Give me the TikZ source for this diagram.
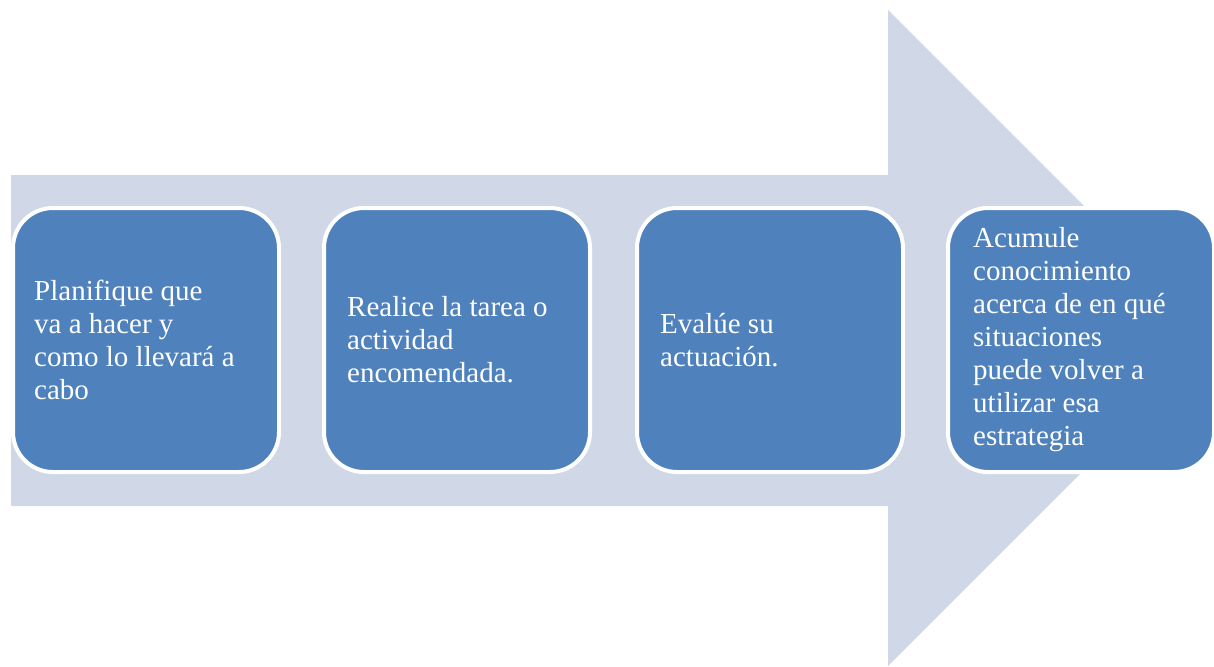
\documentclass[tikz,border=0pt]{standalone}
\usepackage{fontspec}
\setmainfont{Liberation Serif}
\definecolor{shaftgrey}{HTML}{D0D8E8}
\definecolor{stepblue}{HTML}{4F81BD}
\tikzset{
  stepbox/.style={draw=white, line width=4pt, fill=stepblue, rounded corners=40pt,
    minimum width=266pt, minimum height=264pt, inner sep=0pt},
  steptext/.style={anchor=west, text=white, align=left, inner sep=0pt,
    font=\fontsize{29pt}{33pt}\selectfont}
}
\begin{document}
\begin{tikzpicture}[x=1pt,y=-1pt]
\useasboundingbox (0,0) rectangle (1214,666);
\clip (0,0) rectangle (1214,666);
% big arrow behind the steps
\fill[shaftgrey] (11,175) -- (888,175) -- (888,10) -- (1216,338) -- (888,666)
  -- (888,506) -- (11,506) -- cycle;
% the four steps
\node[stepbox] (plan) at (146,340) {};
\node[steptext] (plantxt) at ([xshift=23pt]plan.west) {Planifique que\\va a hacer y\\como lo llevará a\\cabo};
\node[stepbox] (task) at (457,340) {};
\node[steptext] (tasktxt) at ([xshift=25pt]task.west) {Realice la tarea o\\actividad\\encomendada.};
\node[stepbox] (eval) at (770,340) {};
\node[steptext] (evaltxt) at ([xshift=25pt]eval.west) {Evalúe su\\actuación.};
\node[stepbox] (acum) at (1081,340) {};
\node[steptext] (acumtxt) at ([xshift=27pt]acum.west) {Acumule\\conocimiento\\acerca de en qué\\situaciones\\puede volver a\\utilizar esa\\estrategia};
\end{tikzpicture}
\end{document}
